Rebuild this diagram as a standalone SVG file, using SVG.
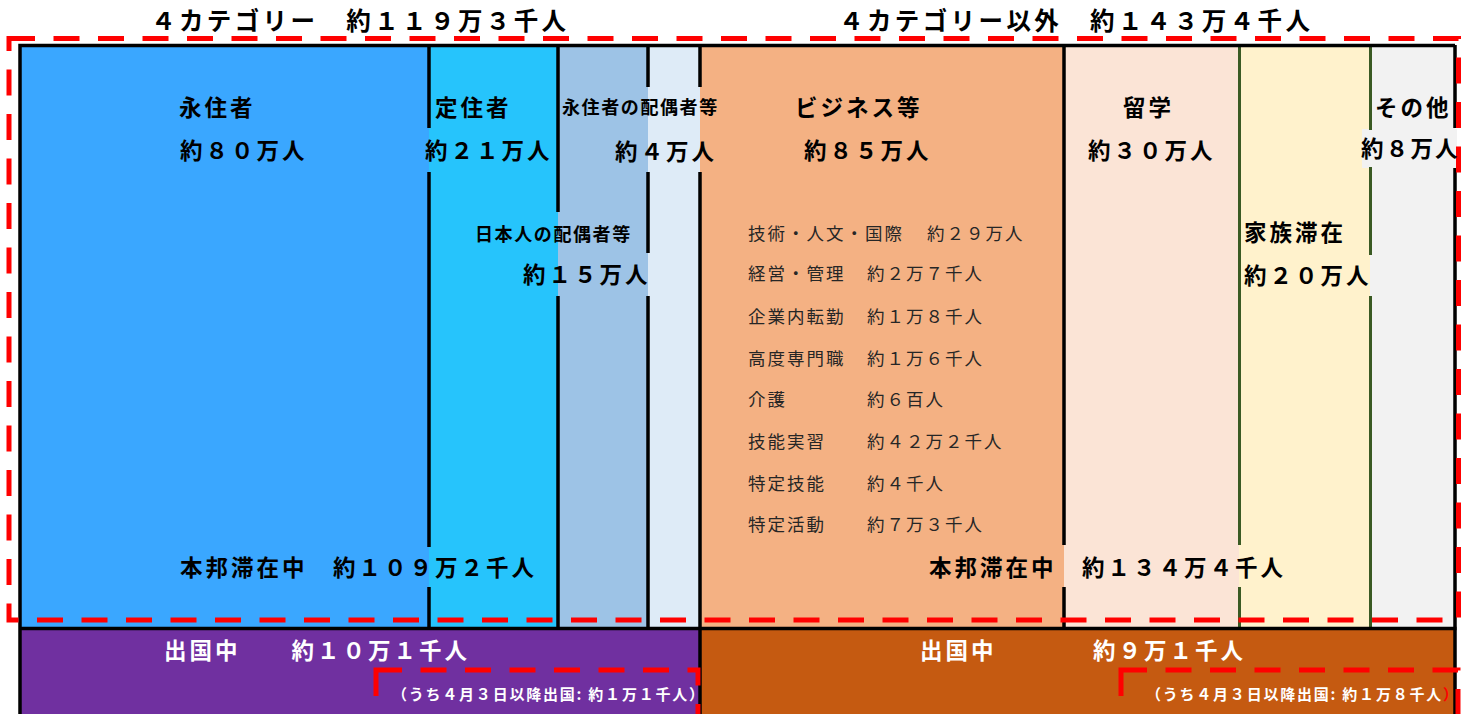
<svg xmlns="http://www.w3.org/2000/svg" width="1461" height="714" viewBox="0 0 1461 714">
<style>
.lbl{font-family:"Noto Sans CJK JP","Noto Sans CJK SC",sans-serif;font-weight:700;font-size:22.5px;letter-spacing:3px;fill:#000}
.hdr{font-family:"Noto Sans CJK JP",sans-serif;font-weight:700;font-size:24.5px;letter-spacing:3.4px;fill:#000}
.sm{font-family:"Noto Sans CJK JP",sans-serif;font-weight:700;font-size:18px;letter-spacing:1.6px;fill:#000}
.lst{font-family:"Noto Sans CJK JP",sans-serif;font-weight:400;font-size:17.5px;letter-spacing:2px;fill:#262626}
.wh{font-family:"Noto Sans CJK JP",sans-serif;font-weight:700;font-size:22.5px;letter-spacing:3px;fill:#fff}
.note{font-family:"Noto Sans CJK JP",sans-serif;font-weight:700;font-size:15px;fill:#fff}
.bl{stroke:#000;stroke-width:3.5;fill:none}
.gr{stroke:#3A5A23;stroke-width:3;fill:none}
.red{stroke:#FF0000;stroke-width:5;fill:none;stroke-dasharray:26 18.5}
</style>
<rect width="1461" height="714" fill="#fff"/>
<g id="col-eijusha"><rect x="20" y="45" width="409" height="584" fill="#3AA7FF"/></g>
<g id="col-teijusha"><rect x="429" y="45" width="129" height="584" fill="#26C4FC"/></g>
<g id="col-nihonjin"><rect x="558" y="45" width="90" height="584" fill="#9DC3E6"/></g>
<g id="col-eijuhaigu"><rect x="648" y="45" width="52" height="584" fill="#DEEBF7"/></g>
<g id="col-business"><rect x="700" y="45" width="364" height="584" fill="#F4B183"/></g>
<g id="col-ryugaku"><rect x="1064" y="45" width="175" height="584" fill="#FBE4D6"/></g>
<g id="col-kazoku"><rect x="1239" y="45" width="131" height="584" fill="#FFF2CC"/></g>
<g id="col-sonota"><rect x="1370" y="45" width="85" height="584" fill="#F2F2F2"/></g>
<g id="out-left"><rect x="20" y="628" width="680" height="90" fill="#7030A0"/></g>
<g id="out-right"><rect x="700" y="628" width="755" height="90" fill="#C55A11"/></g>
<rect x="1362" y="129" width="95" height="39" fill="#F2F2F2"/>
<g id="connectors">
<path class="bl" d="M429,45V128M429,172V547M429,587V628M558,45V212M558,296V628M648,45V87M648,172V253M648,296V628M700,45V87M700,172V714M1064,45V545M1064,587V628M1455,45V128M1455,168V714"/>
<path class="gr" d="M1239.5,45V545M1239.5,587V628M1370.5,45V130M1370.5,167V255M1370.5,296V628"/>
<path class="bl" d="M20,716V45.5H1455M18.5,628.5H1456.5"/>
<rect class="red" x="9" y="38.5" width="1449.5" height="581.5"/>
<rect class="red" x="376" y="670" width="322" height="47"/>
<rect class="red" x="1121" y="670" width="337" height="54.25"/>
</g>
<g id="headers">
<text class="hdr" x="151" y="30">４カテゴリー　約１１９万３千人</text>
<text class="hdr" x="839" y="30">４カテゴリー以外　約１４３万４千人</text>
</g>
<g id="n-eijusha"><text class="lbl" x="179" y="115.5">永住者</text><text class="lbl" x="180" y="158.5">約８０万人</text></g>
<g id="n-teijusha"><text class="lbl" x="435" y="115.5">定住者</text><text class="lbl" x="425" y="158.5">約２１万人</text></g>
<g id="n-eijuhaigu"><text class="sm" x="562" y="113.8">永住者の配偶者等</text><text class="lbl" x="615" y="159.5">約４万人</text></g>
<g id="n-nihonjin"><text class="sm" x="475" y="240.8">日本人の配偶者等</text><text class="lbl" x="523" y="283">約１５万人</text></g>
<g id="n-business"><text class="lbl" x="795" y="115.5">ビジネス等</text><text class="lbl" x="804" y="158.5">約８５万人</text>
<text class="lst" x="748" y="239.6">技術・人文・国際</text><text class="lst" x="927" y="239.6">約２９万人</text>
<text class="lst" x="748" y="279.6">経営・管理</text><text class="lst" x="867" y="279.6">約２万７千人</text>
<text class="lst" x="748" y="322.6">企業内転勤</text><text class="lst" x="867" y="322.6">約１万８千人</text>
<text class="lst" x="748" y="364.6">高度専門職</text><text class="lst" x="867" y="364.6">約１万６千人</text>
<text class="lst" x="748" y="405.6">介護</text><text class="lst" x="867" y="405.6">約６百人</text>
<text class="lst" x="748" y="447.6">技能実習</text><text class="lst" x="867" y="447.6">約４２万２千人</text>
<text class="lst" x="748" y="489.6">特定技能</text><text class="lst" x="867" y="489.6">約４千人</text>
<text class="lst" x="748" y="530.6">特定活動</text><text class="lst" x="867" y="530.6">約７万３千人</text>
</g>
<g id="n-ryugaku"><text class="lbl" x="1123" y="115.5">留学</text><text class="lbl" x="1088" y="158.5">約３０万人</text></g>
<g id="n-kazoku"><text class="lbl" x="1244" y="240.5">家族滞在</text><text class="lbl" x="1244" y="283.5">約２０万人</text></g>
<g id="n-sonota"><text class="lbl" x="1375" y="116">その他</text><text class="lbl" x="1361" y="156.5" style="letter-spacing:2.2px">約８万人</text></g>
<g id="n-stay"><text class="lbl" x="180" y="575.5">本邦滞在中　約１０９万２千人</text><text class="lbl" x="929" y="575.5">本邦滞在中　約１３４万４千人</text></g>
<g id="n-out-left"><text class="wh" x="164" y="658.5">出国中　　約１０万１千人</text>
<text class="note" x="392" y="699.5" textLength="312" lengthAdjust="spacing">（うち４月３日以降出国: 約１万１千人）</text></g>
<g id="n-out-right"><text class="wh" x="920" y="658.5">出国中</text><text class="wh" x="1093" y="658.5">約９万１千人</text>
<text class="note" x="1146" y="699.5" textLength="312" lengthAdjust="spacing">（うち４月３日以降出国: 約１万８千人<tspan fill="#FF0000">）</tspan></text></g>
</svg>
